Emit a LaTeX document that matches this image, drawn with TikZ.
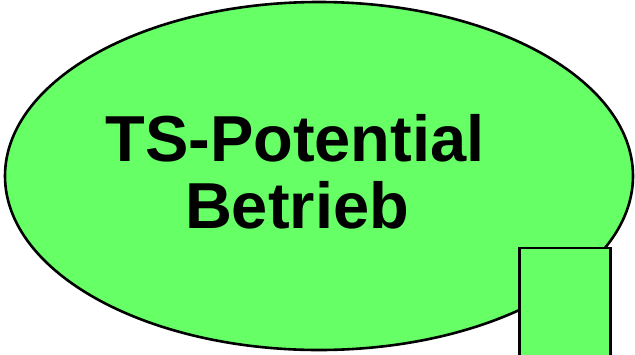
\documentclass[tikz,border=0pt]{standalone}
\usepackage{fontspec}
\setmainfont{Liberation Sans}
\usetikzlibrary{shapes.geometric}
\definecolor{lgreen}{HTML}{66FF66}
\tikzset{
  shapebox/.style={draw=black, fill=lgreen, line width=2.6pt, inner sep=0pt, outer sep=0pt},
  bigtext/.style={font=\fontsize{65}{67}\selectfont\bfseries, inner sep=0pt, anchor=base}
}
\begin{document}
\begin{tikzpicture}[x=1pt,y=-1pt]
\useasboundingbox (0,0) rectangle (635,354);
\clip (0,0) rectangle (635,354);
\node[shapebox, ellipse, minimum width=628pt, minimum height=348pt] (ell) at (319,176) {};
\node[shapebox, rectangle, minimum width=91pt, minimum height=120pt, anchor=north west] (box) at (519.5,248) {};
\node[bigtext] (t1) at (295,161) {TS-Potential};
\node[bigtext] (t2) at (297,228) {Betrieb};
\end{tikzpicture}
\end{document}
